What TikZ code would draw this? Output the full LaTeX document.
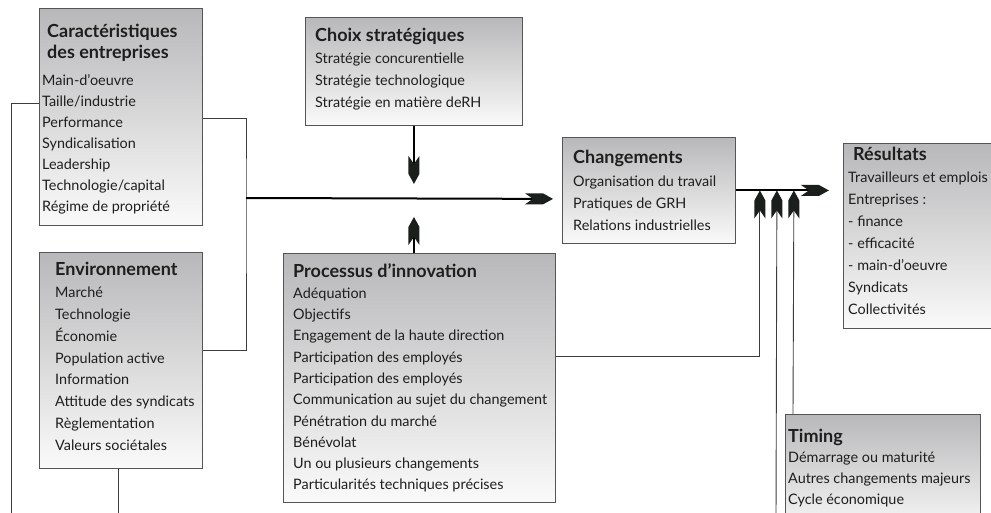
\documentclass[tikz,border=0pt]{standalone}
\usepackage{fontspec}
\setmainfont{Lato}
\usetikzlibrary{calc}

\definecolor{bordcadre}{RGB}{85,85,85}
\definecolor{hautcadre}{RGB}{184,184,186}
\definecolor{bascadre}{RGB}{250,250,250}
\definecolor{trait}{RGB}{60,60,60}
\definecolor{pointe}{RGB}{26,31,28}
\definecolor{encre}{RGB}{30,30,30}

% pointe de fleche en forme de dard
\pgfdeclarearrow{
  name=Dard,
  setup code={
    \pgfarrowssettipend{0pt}
    \pgfarrowssetlineend{-14pt}
    \pgfarrowssetbackend{-28pt}
    \pgfarrowsupperhullpoint{-10pt}{5.5pt}
    \pgfarrowsupperhullpoint{-28pt}{5.5pt}
  },
  drawing code={
    \pgfsetfillcolor{pointe}
    \pgfpathmoveto{\pgfpointorigin}
    \pgfpathlineto{\pgfpoint{-10pt}{5.5pt}}
    \pgfpathlineto{\pgfpoint{-28pt}{5.5pt}}
    \pgfpathlineto{\pgfpoint{-20pt}{0pt}}
    \pgfpathlineto{\pgfpoint{-28pt}{-5.5pt}}
    \pgfpathlineto{\pgfpoint{-10pt}{-5.5pt}}
    \pgfpathclose
    \pgfusepathqfill
  }
}

\newcommand\titre[1]{{\fontsize{18}{18}\selectfont\bfseries #1}}

\begin{document}
\begin{tikzpicture}[
    x=1pt,y=-1pt,
    cadre/.style={draw=bordcadre,line width=0.9pt,top color=hautcadre,
      bottom color=bascadre,anchor=north west,inner sep=0pt},
    texte/.style={anchor=base west,inner sep=0pt,text=encre,
      font=\fontsize{14.4}{#1}\selectfont},
    texte/.default=21.5,
    fin/.style={draw=trait,line width=0.9pt},
    epais/.style={draw=black,line width=2pt}
  ]
  \useasboundingbox (0,0) rectangle (991,513);
  \clip (0,0) rectangle (991,513);

  % cadres
  \node[cadre,minimum width=163pt,minimum height=217pt] (carac) at (39,8) {};
  \node[cadre,minimum width=163pt,minimum height=216pt] (env) at (39,252) {};
  \node[cadre,minimum width=217pt,minimum height=108pt] (choix) at (305,17) {};
  \node[cadre,minimum width=272pt,minimum height=249pt] (proc) at (283,253) {};
  \node[cadre,minimum width=173pt,minimum height=106pt] (chang) at (562,137) {};
  \node[cadre,minimum width=170pt,minimum height=185pt] (result) at (843,143) {};
  \node[cadre,minimum width=195pt,minimum height=120pt] (timing) at (785,414) {};

  % textes
  \node[texte=21] (carac-t) at (42,38) {\begin{tabular}[t]{@{}l@{}}
      \hspace*{5pt}\titre{Caractéristiques}\\
      \hspace*{5pt}\titre{des entreprises}\\[6pt]
      Main-d’oeuvre\\ Taille/industrie\\ Performance\\ Syndicalisation\\
      Leadership\\ Technologie/capital\\ Régime de propriété
    \end{tabular}};
  \node[texte=21.8] (env-t) at (55,276) {\begin{tabular}[t]{@{}l@{}}
      \titre{Environnement}\\
      Marché\\ Technologie\\ Économie\\ Population active\\ Information\\
      Attitude des syndicats\\ Règlementation\\ Valeurs sociétales
    \end{tabular}};
  \node[texte=22] (choix-t) at (315,42) {\begin{tabular}[t]{@{}l@{}}
      \titre{Choix stratégiques}\\
      Stratégie concurentielle\\ Stratégie technologique\\
      Stratégie en matière deRH
    \end{tabular}};
  \node[texte=21.3] (proc-t) at (293,277) {\begin{tabular}[t]{@{}l@{}}
      \titre{Processus d’innovation}\\
      Adéquation\\ Objectifs\\ Engagement de la haute direction\\
      Participation des employés\\ Participation des employés\\
      Communication au sujet du changement\\ Pénétration du marché\\
      Bénévolat\\ Un ou plusieurs changements\\
      Particularités techniques précises
    \end{tabular}};
  \node[texte=22.3] (chang-t) at (573,164) {\begin{tabular}[t]{@{}l@{}}
      \titre{Changements}\\
      Organisation du travail\\ Pratiques de GRH\\ Relations industrielles
    \end{tabular}};
  \node[texte=22] (result-t) at (848,161) {\begin{tabular}[t]{@{}l@{}}
      \hspace*{5pt}\titre{Résultats}\\
      Travailleurs et emplois\\ Entreprises :\\ - finance\\ - efficacité\\
      - main-d’oeuvre\\ Syndicats\\ Collectivités
    \end{tabular}};
  \node[texte=20.7] (timing-t) at (788,442) {\begin{tabular}[t]{@{}l@{}}
      \titre{Timing}\\
      Démarrage ou maturité\\ Autres changements majeurs\\
      Cycle économique
    \end{tabular}};

  % extremites libres
  \coordinate (noeud) at (246,198);
  \coordinate (bas-g) at (11,520);
  \coordinate (bas-e) at (118,520);
  \coordinate (bas-m) at (776,520);

  % liaisons fines
  \draw[fin] ($(carac.north west)+(0,95)$) -| (bas-g);
  \draw[fin] ($(carac.north east)+(0,110)$) -| (noeud)
    |- ($(env.north east)+(0,98)$);
  \draw[fin] ($(env.south west)+(79,0)$) -- (bas-e);

  % fleches principales
  \draw[epais,-Dard] (noeud) -- ($(chang.south west)+(-9,-45)$);
  \draw[epais,-Dard] (choix.south) -- ++(0,58);
  \draw[epais,-Dard] (choix.south |- proc.north) -- ++(0,-36);
  \draw[epais,-Dard] (chang.east) -- ++(93,0);

  % fleches vers la sortie
  \draw[fin,-Dard] ($(proc.north east)+(0,103)$) -| ($(chang.east)+(24,0)$);
  \draw[fin,-Dard] (bas-m) -- ($(chang.east)+(41,0)$);
  \draw[fin,-Dard] ($(timing.north west)+(8,0)$) -- ($(chang.east)+(58,0)$);
\end{tikzpicture}
\end{document}
